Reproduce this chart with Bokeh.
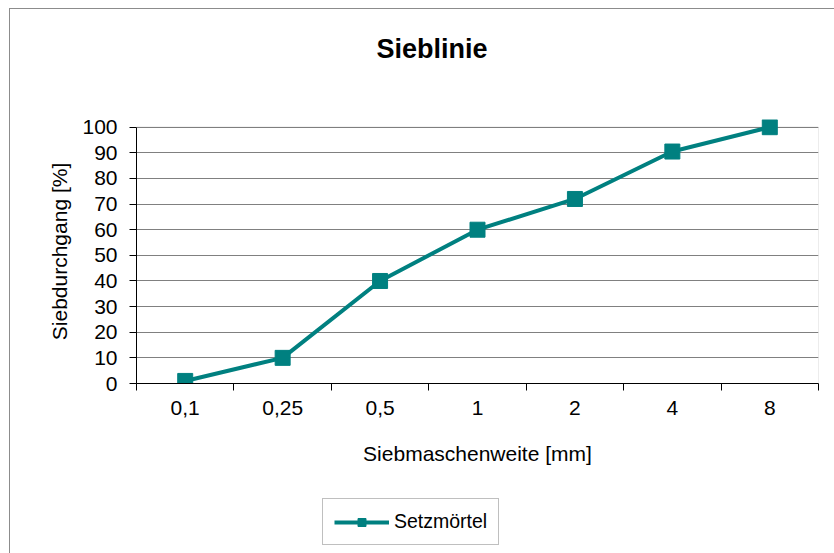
from bokeh.plotting import figure
from bokeh.models import FixedTicker, Range1d, Legend, LegendItem, Title, BoxAnnotation
from bokeh.layouts import column
from bokeh.embed import file_html
from bokeh.resources import INLINE

categories = ["0,1", "0,25", "0,5", "1", "2", "4", "8"]
setzmoertel = [1, 10, 40, 60, 72, 90.5, 100]
y_ticks = [0, 10, 20, 30, 40, 50, 60, 70, 80, 90, 100]
series_name = "Setzmörtel"
chart_title = "Sieblinie"

xpos = [i + 0.5 for i in range(len(categories))]
FONT = "Liberation Sans"
TEAL = "#008080"
Y_MAX = y_ticks[-1]
Y_PAD = 3  # room so the top marker is not clipped

p = figure(width=824, height=475, output_backend="svg", toolbar_location=None,
           x_range=Range1d(0, len(categories)), y_range=Range1d(0, Y_MAX + Y_PAD),
           min_border_left=126, min_border_right=16, min_border_top=110,
           min_border_bottom=101, title=None)

# spacer between frame and title (stacked next to the frame first)
spacer = Title(text=" ", text_font=FONT, text_font_size="27px", text_color="white",
               standoff=24)
p.add_layout(spacer, "above")
main_title = Title(text=chart_title, text_font=FONT, text_font_size="27px",
                   text_font_style="bold", text_color="black", align="left",
                   offset=240, standoff=0, vertical_align="bottom")
p.add_layout(main_title, "above")

p.outline_line_color = None
p.background_fill_color = "white"
p.border_fill_color = "white"

# plot-area border (0..100 box)
frame_box = BoxAnnotation(left=0, right=len(categories), bottom=0, top=Y_MAX,
                          fill_color=None, line_color="#808080", line_width=1,
                          level="underlay")
p.add_layout(frame_box)

# grid
p.xgrid.grid_line_color = None
p.ygrid.grid_line_color = "#808080"
p.ygrid.grid_line_width = 1

# x axis
xa = p.xaxis[0]
xa.ticker = FixedTicker(ticks=xpos, minor_ticks=list(range(len(categories) + 1)))
xa.major_label_overrides = {x: c for x, c in zip(xpos, categories)}
xa.major_tick_line_color = None
xa.minor_tick_line_color = "black"
xa.minor_tick_out = 7
xa.minor_tick_in = 0
xa.axis_line_color = "black"
xa.major_label_text_font = FONT
xa.major_label_text_font_size = "21px"
xa.major_label_text_color = "black"
xa.major_label_standoff = 10
xa.axis_label = "Siebmaschenweite [mm]"
xa.axis_label_text_font = FONT
xa.axis_label_text_font_size = "21px"
xa.axis_label_text_font_style = "normal"
xa.axis_label_text_color = "black"
xa.axis_label_standoff = 24

# y axis
ya = p.yaxis[0]
ya.ticker = FixedTicker(ticks=y_ticks, minor_ticks=[])
ya.bounds = (0, Y_MAX)
ya.major_tick_out = 7
ya.major_tick_in = 0
ya.major_tick_line_color = "black"
ya.minor_tick_line_color = None
ya.axis_line_color = "black"
ya.major_label_text_font = FONT
ya.major_label_text_font_size = "21px"
ya.major_label_text_color = "black"
ya.major_label_standoff = 12
ya.axis_label = "Siebdurchgang [%]"
ya.axis_label_text_font = FONT
ya.axis_label_text_font_size = "21px"
ya.axis_label_text_font_style = "normal"
ya.axis_label_text_color = "black"
ya.axis_label_standoff = 8

p.line(xpos, setzmoertel, line_color=TEAL, line_width=4)
p.scatter(xpos, setzmoertel, marker="square", size=15, fill_color=TEAL, line_color=TEAL)

# legend strip below the chart (same series, ranges chosen so nothing is drawn there)
pl = figure(width=824, height=69, output_backend="svg", toolbar_location=None,
            x_range=Range1d(-20, -10), y_range=Range1d(-20, -10), min_border=0,
            x_axis_location=None, y_axis_location=None)
pl.outline_line_color = None
pl.grid.grid_line_color = None
pl.background_fill_color = "white"
pl.border_fill_color = "white"
l2 = pl.line(xpos, setzmoertel, line_color=TEAL, line_width=4)
s2 = pl.scatter(xpos, setzmoertel, marker="square", size=15, fill_color=TEAL, line_color=TEAL)

legend = Legend(items=[LegendItem(label=series_name, renderers=[l2, s2])],
                location=(186, 8), orientation="vertical")
legend.border_line_color = "#808080"
legend.border_line_width = 1
legend.background_fill_color = "white"
legend.label_text_font = FONT
legend.label_text_font_size = "19.5px"
legend.label_text_color = "black"
legend.glyph_width = 55
legend.glyph_height = 20
legend.padding = 11
legend.margin = 0
legend.label_standoff = 5
legend.spacing = 0
pl.add_layout(legend, "center")

layout = column(p, pl, spacing=0)
layout.margin = (8, 0, 0, 9)
layout.styles = {"border-top": "1px solid #8c8c8c", "border-left": "1px solid #8c8c8c"}

open("out.html", "w").write(file_html(layout, INLINE))
